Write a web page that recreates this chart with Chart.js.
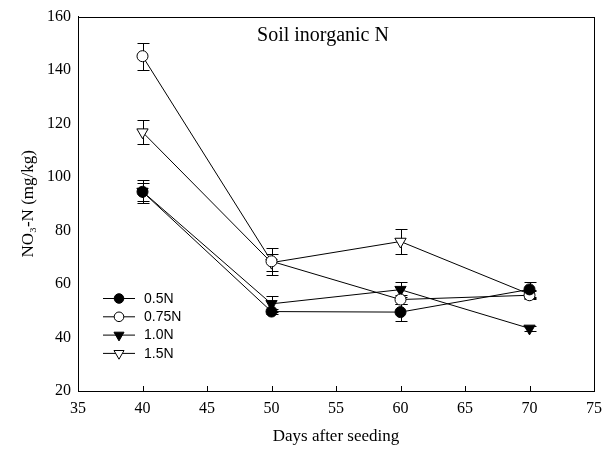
<!DOCTYPE html>
<html>
<head>
<meta charset="utf-8">
<script src="https://cdn.jsdelivr.net/npm/chart.js@4/dist/chart.umd.min.js"></script>
<style>
  body { margin: 0; background: #fff; }
  canvas { display: block; }
</style>
</head>
<body>
<canvas id="nitrateChart" width="610" height="450"></canvas>
<script>
// days after seeding
const days = [40, 50, 60, 70];

// NO3-N (mg/kg) means and error bars
const n05 = [94.5, 49.7, 49.5, 58.0];
const err05 = [3.3, 1.0, 3.2, 2.8];
const n075 = [145.2, 68.5, 54.2, 55.8];
const err075 = [5.0, 5.0, 1.7, 1.5];
const n10 = [94.6, 52.6, 57.9, 43.4];
const err10 = [4.4, 3.1, 2.8, 0.8];
const n15 = [116.8, 68.0, 75.9, 56.2];
const err15 = [4.4, 3.3, 4.8, 1.5];

const seriesNames = ['0.5N', '0.75N', '1.0N', '1.5N'];
const xTicks = [35, 40, 45, 50, 55, 60, 65, 70, 75];
const yTicks = [20, 40, 60, 80, 100, 120, 140, 160];

const serif = "'Liberation Serif', 'Times New Roman', serif";
const sans = "'Liberation Sans', Arial, sans-serif";

function makeSet (label, values, errors, style, filled) {
    return {
        label: label,
        data: days.map((d, i) => ({ x: d, y: values[i] })),
        errors: errors,
        borderColor: '#000',
        borderWidth: 1,
        pointStyle: style,
        pointRotation: style === 'triangle' ? 180 : 0,
        pointRadius: style === 'triangle' ? 6.5 : 5.5,
        pointBorderWidth: 1,
        pointBorderColor: '#000',
        pointBackgroundColor: filled ? '#000' : '#fff',
        tension: 0
    };
}

const datasets = [
    makeSet(seriesNames[0], n05, err05, 'circle', true),
    makeSet(seriesNames[1], n075, err075, 'circle', false),
    makeSet(seriesNames[2], n10, err10, 'triangle', true),
    makeSet(seriesNames[3], n15, err15, 'triangle', false)
];

// error bars drawn under the markers
const errorBars = {
    id: 'errorBars',
    beforeDatasetsDraw (chart) {
        const ctx = chart.ctx;
        const xs = chart.scales.x, ys = chart.scales.y;
        ctx.save();
        ctx.strokeStyle = '#000';
        ctx.lineWidth = 1;
        chart.data.datasets.forEach(ds => {
            ds.data.forEach((p, i) => {
                const e = ds.errors[i];
                const px = Math.round(xs.getPixelForValue(p.x)) + 0.5;
                const top = Math.round(ys.getPixelForValue(p.y + e)) + 0.5;
                const bot = Math.round(ys.getPixelForValue(p.y - e)) + 0.5;
                ctx.beginPath();
                ctx.moveTo(px, top); ctx.lineTo(px, bot);
                ctx.moveTo(px - 6, top); ctx.lineTo(px + 6, top);
                ctx.moveTo(px - 6, bot); ctx.lineTo(px + 6, bot);
                ctx.stroke();
            });
        });
        ctx.restore();
    }
};

// box frame, inward ticks on x, title and legend inside the plot
const decorations = {
    id: 'decorations',
    afterDraw (chart) {
        const ctx = chart.ctx;
        const a = chart.chartArea;
        const xs = chart.scales.x;
        ctx.save();
        ctx.strokeStyle = '#000';
        ctx.lineWidth = 1;
        ctx.strokeRect(Math.round(a.left) + 0.5, Math.round(a.top) + 0.5,
            Math.round(a.right - a.left), Math.round(a.bottom - a.top));

        ctx.beginPath();
        xTicks.slice(1, -1).forEach(v => {
            const px = Math.round(xs.getPixelForValue(v)) + 0.5;
            ctx.moveTo(px, a.bottom);
            ctx.lineTo(px, a.bottom - 5);
        });
        ctx.stroke();

        ctx.fillStyle = '#000';
        ctx.font = '20px ' + serif;
        ctx.textAlign = 'center';
        ctx.textBaseline = 'alphabetic';
        ctx.fillText('Soil inorganic N', a.left + 245, 41);

        // legend
        ctx.font = '14px ' + sans;
        ctx.textAlign = 'left';
        ctx.textBaseline = 'middle';
        chart.data.datasets.forEach((ds, i) => {
            const y = 298 + i * 18.3;
            ctx.beginPath();
            ctx.moveTo(103, y + 0.5);
            ctx.lineTo(135, y + 0.5);
            ctx.stroke();
            ctx.fillStyle = ds.pointBackgroundColor;
            Chart.helpers.drawPoint(ctx, {
                pointStyle: ds.pointStyle,
                rotation: ds.pointRotation,
                radius: ds.pointStyle === 'triangle' ? 5.8 : 4.8,
                borderWidth: 1
            }, 119, y + 0.5);
            ctx.fillStyle = '#000';
            ctx.fillText(ds.label, 144, y + 1);
        });
        ctx.restore();
    }
};

new Chart(document.getElementById('nitrateChart'), {
    type: 'line',
    data: { datasets: datasets },
    options: {
        responsive: false,
        animation: false,
        layout: { padding: { top: 13, right: 15, left: 0, bottom: 0 } },
        plugins: {
            legend: { display: false },
            tooltip: { enabled: false }
        },
        scales: {
            x: {
                type: 'linear',
                min: 35,
                max: 75,
                afterBuildTicks: s => { s.ticks = xTicks.map(v => ({ value: v })); },
                afterFit: s => { s.height = 59; },
                grid: { display: false, drawTicks: false },
                border: { display: true, color: '#000', width: 1 },
                ticks: { color: '#000', padding: 8, maxRotation: 0, font: { family: serif, size: 16 } },
                title: {
                    display: true,
                    text: 'Days after seeding',
                    color: '#000',
                    padding: { top: 0, bottom: 3 },
                    font: { family: serif, size: 17 }
                }
            },
            y: {
                min: 20,
                max: 160,
                afterBuildTicks: s => { s.ticks = yTicks.map(v => ({ value: v })); },
                afterFit: s => { s.width = 78; },
                grid: { display: false, drawTicks: false },
                border: { display: true, color: '#000', width: 1 },
                ticks: { color: '#000', padding: 7, font: { family: serif, size: 16 } },
                title: {
                    display: true,
                    text: 'NO\u2083-N (mg/kg)',
                    color: '#000',
                    padding: { top: 18, bottom: 0 },
                    font: { family: serif, size: 17 }
                }
            }
        }
    },
    plugins: [errorBars, decorations]
});
</script>
</body>
</html>
